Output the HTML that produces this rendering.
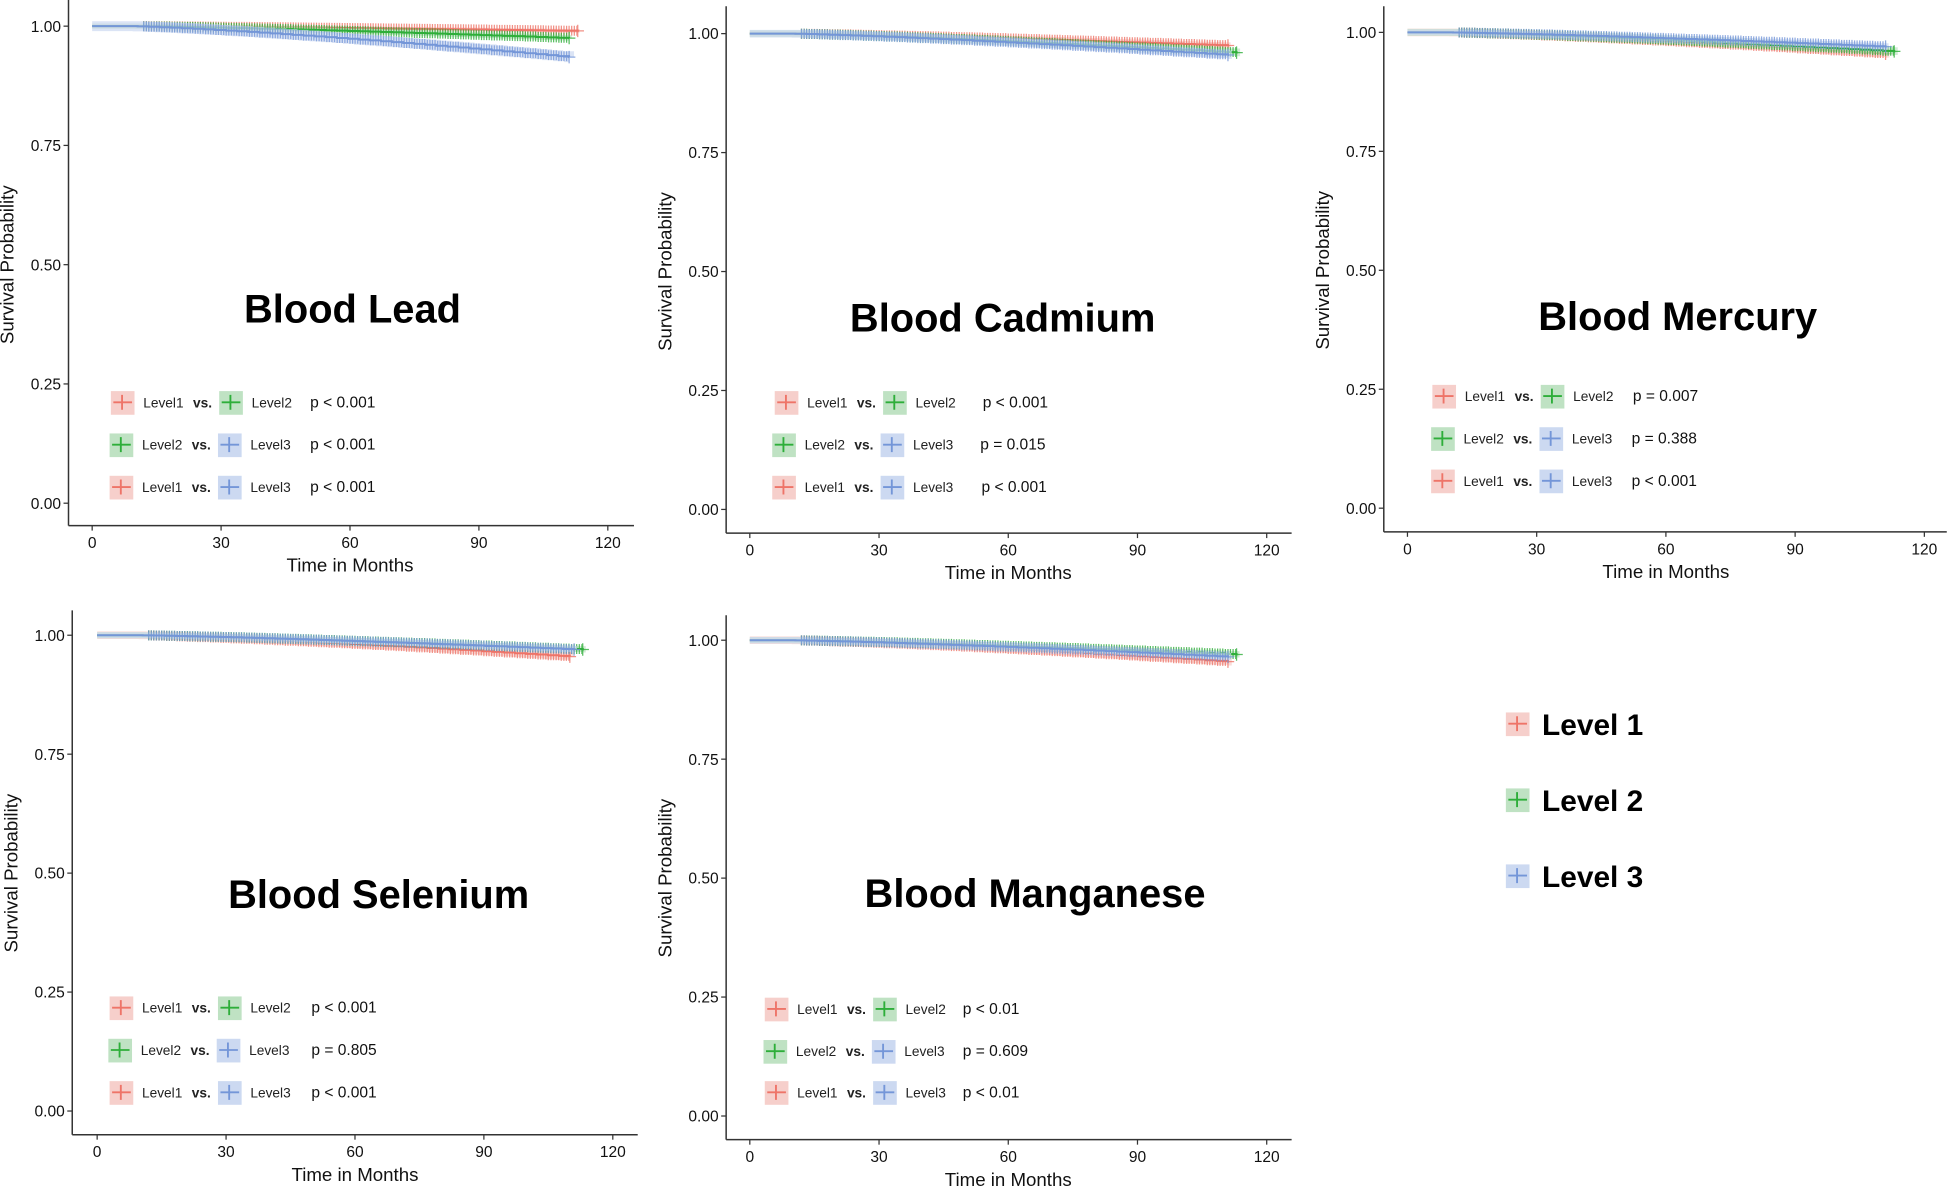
<!DOCTYPE html>
<html><head><meta charset="utf-8">
<style>
html,body{margin:0;padding:0;background:#fff;width:1953px;height:1189px;overflow:hidden}
svg{display:block}
text{font-family:"Liberation Sans",Arial,sans-serif}
</style></head>
<body>
<svg id="s" width="1953" height="1189" viewBox="0 0 1568 954.6" preserveAspectRatio="none" xmlns="http://www.w3.org/2000/svg"></svg>
<script>
const C={r:"#EE7468",g:"#2EAE3A",b:"#7496D8"};
const L={r:"#F6CFCB",g:"#BFE2C3",b:"#CCD9F1"};
let out="";
function panel(p){
  const {ax,xb,xr,x0,x120,y1,y0,top,title,tx,ty,curves,leg}=p;
  const X=t=>x0+(x120-x0)*t/120, Y=v=>y0+(y1-y0)*v;
  out+=`<line x1="${ax}" y1="${top}" x2="${ax}" y2="${xb}" stroke="#333" stroke-width="1.2"/>`;
  out+=`<line x1="${ax}" y1="${xb}" x2="${xr}" y2="${xb}" stroke="#333" stroke-width="1.2"/>`;
  [0,30,60,90,120].forEach(t=>{out+=`<line x1="${X(t)}" y1="${xb}" x2="${X(t)}" y2="${xb+4}" stroke="#333"/><text x="${X(t)}" y="${xb+18}" font-size="12.5" text-anchor="middle" fill="#111">${t}</text>`;});
  [[1,"1.00"],[.75,"0.75"],[.5,"0.50"],[.25,"0.25"],[0,"0.00"]].forEach(([v,s])=>{out+=`<line x1="${ax-4}" y1="${Y(v)}" x2="${ax}" y2="${Y(v)}" stroke="#333"/><text x="${ax-6}" y="${Y(v)+4.5}" font-size="12.5" text-anchor="end" fill="#111">${s}</text>`;});
  out+=`<text x="${(x0+x120)/2}" y="${xb+37}" font-size="15" text-anchor="middle" fill="#111">Time in Months</text>`;
  const ym=(Y(0)+Y(1))/2;
  out+=`<text transform="translate(${ax-44},${ym}) rotate(-90)" font-size="15" text-anchor="middle" fill="#111">Survival Probability</text>`;
  out+=`<text x="${tx}" y="${ty}" font-size="32" font-weight="bold" text-anchor="middle" fill="#000">${title}</text>`;
  curves.forEach(([c,end,fv,tend])=>{
    let pts=[];const n=40;
    let d=`M${X(0)},${Y(1)}`;
    for(let i=0;i<=n;i++){
      const tt=8+(tend-8)*i/n;
      const nv=1-(1-fv)*Math.pow(i/n,1.3);
      d+=`H${X(tt).toFixed(1)}V${Y(nv).toFixed(1)}`;
      pts.push([tt,nv]);
    }
    d+=`H${X(tend)}`;
    const w=(1-fv)*0.12*(y0-y1)+1;
    out+=`<path d="${d}" fill="none" stroke="${L[c]}" stroke-width="${w*2}" opacity="0.7"/>`;
    out+=`<path d="${d}" fill="none" stroke="${C[c]}" stroke-width="1.6"/>`;
    let m="";
    for(let tt=12;tt<tend;tt+=0.6){
      let nv=1;for(const [a,b] of pts){if(a<=tt)nv=b;}
      m+=`M${X(tt).toFixed(1)},${(Y(nv)-4).toFixed(1)}v8`;
    }
    m+=`M${X(tend)-5},${Y(fv)}h10M${X(tend)},${Y(fv)-5}v10`;
    out+=`<path d="${m}" stroke="${C[c]}" stroke-width="1" fill="none" opacity="0.8"/>`;
  });
  leg.forEach(([a,b,pv,y,bx,px])=>{
    const key=(x,c)=>`<rect x="${x-9}" y="${y-9}" width="19" height="19" fill="${L[c]}"/><path d="M${x-7},${y}h15M${x},${y-6}v12" stroke="${C[c]}" stroke-width="1.5"/>`;
    out+=key(bx,a)+`<text x="${bx+17}" y="${y+4}" font-size="11" fill="#222">Level${{r:1,g:2,b:3}[a]}</text>`;
    out+=`<text x="${bx+57}" y="${y+4}" font-size="11" font-weight="bold" fill="#222">vs.</text>`;
    out+=key(bx+87,b)+`<text x="${bx+104}" y="${y+4}" font-size="11" fill="#222">Level${{r:1,g:2,b:3}[b]}</text>`;
    out+=`<text x="${px}" y="${y+4}" font-size="12.5" fill="#111">${pv}</text>`;
  });
}
panel({ax:55,xb:422,xr:509,x0:74,x120:488,y1:21,y0:404,top:0,title:"Blood Lead",tx:283,ty:259,
 curves:[["r",0,0.99,113],["g",0,0.975,111],["b",0,0.935,111]],
 leg:[["r","g","p &lt; 0.001",323,98,249],["g","b","p &lt; 0.001",357,97,249],["r","b","p &lt; 0.001",391,97,249]]});
panel({ax:583,xb:428,xr:1037,x0:602,x120:1017,y1:27,y0:409,top:5,title:"Blood Cadmium",tx:805,ty:266,
 curves:[["r",0,0.975,111],["g",0,0.96,113],["b",0,0.955,111]],
 leg:[["r","g","p &lt; 0.001",323,631,789],["g","b","p = 0.015",357,629,787],["r","b","p &lt; 0.001",391,629,788]]});
panel({ax:1111,xb:427,xr:1563,x0:1130,x120:1545,y1:26,y0:408,top:5,title:"Blood Mercury",tx:1347,ty:265,
 curves:[["r",0,0.955,111],["g",0,0.96,113],["b",0,0.97,111]],
 leg:[["r","g","p = 0.007",318,1159,1311],["g","b","p = 0.388",352,1158,1310],["r","b","p &lt; 0.001",386,1158,1310]]});
panel({ax:58,xb:911,xr:512,x0:78,x120:492,y1:510,y0:892,top:490,title:"Blood Selenium",tx:304,ty:729,
 curves:[["r",0,0.955,110],["g",0,0.97,113],["b",0,0.97,111]],
 leg:[["r","g","p &lt; 0.001",809,97,250],["g","b","p = 0.805",843,96,250],["r","b","p &lt; 0.001",877,97,250]]});
panel({ax:583,xb:915,xr:1037,x0:602,x120:1017,y1:514,y0:896,top:494,title:"Blood Manganese",tx:831,ty:728,
 curves:[["r",0,0.955,111],["g",0,0.97,113],["b",0,0.965,111]],
 leg:[["r","g","p &lt; 0.01",810,623,773],["g","b","p = 0.609",844,622,773],["r","b","p &lt; 0.01",877,623,773]]});
[["r","Level 1",581],["g","Level 2",642],["b","Level 3",703]].forEach(([c,s,y])=>{
  out+=`<rect x="${1209}" y="${y-9}" width="19" height="19" fill="${L[c]}"/><path d="M1211,${y}h15M1218,${y-6}v12" stroke="${C[c]}" stroke-width="1.5"/>`;
  out+=`<text x="1238" y="${y+9}" font-size="24" font-weight="bold" fill="#000">${s}</text>`;
});
document.getElementById("s").innerHTML=out;
</script>
</body></html>
